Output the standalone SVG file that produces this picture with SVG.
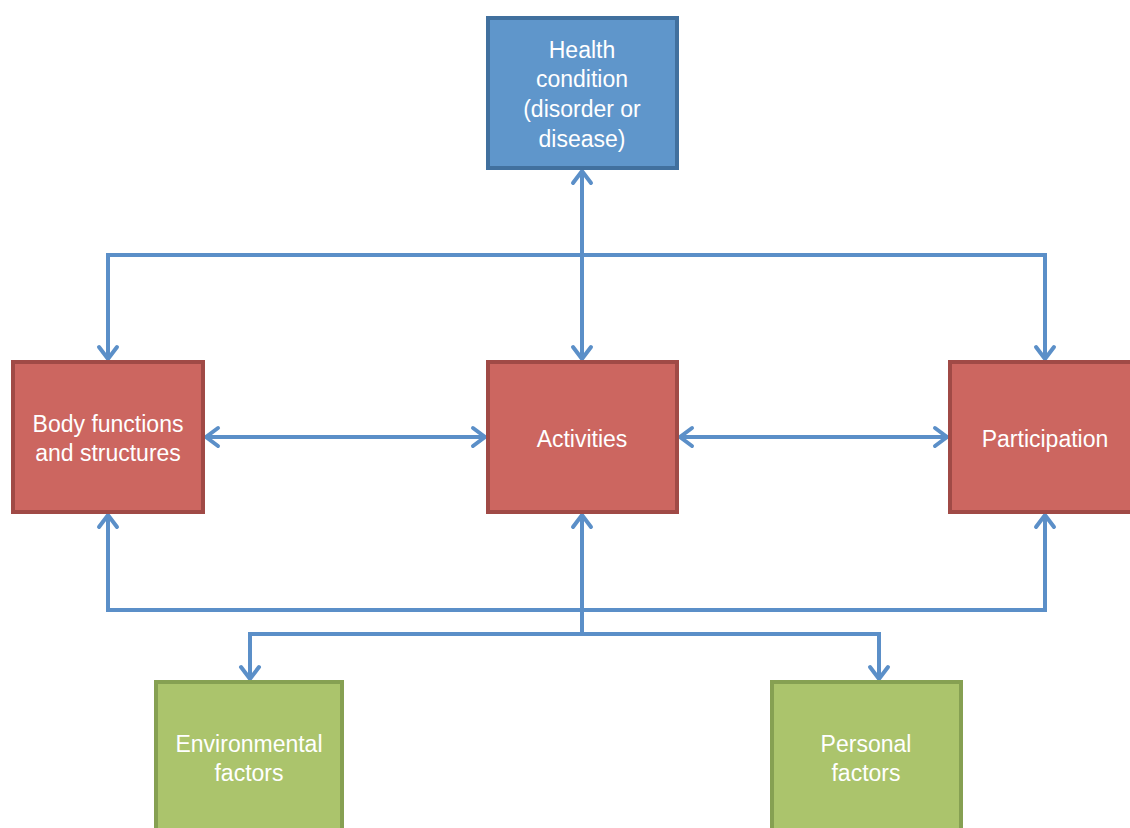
<svg xmlns="http://www.w3.org/2000/svg" width="1130" height="828" viewBox="0 0 1130 828">
<style>
.blue{fill:#5F96CB;stroke:#41709E;stroke-width:4}
.red{fill:#CC6660;stroke:#A04A46;stroke-width:4}
.green{fill:#ABC46C;stroke:#86A052;stroke-width:4}
.lbl{font-family:"Liberation Sans",Arial,sans-serif;font-size:23px;fill:#FFFFFF;text-anchor:middle}
.conn{fill:none;stroke:#5B8FC8;stroke-width:4}
</style>
<defs>
<marker id="arr" markerUnits="userSpaceOnUse" markerWidth="30" markerHeight="30" refX="0" refY="0" viewBox="-15 -15 30 30" orient="auto-start-reverse" overflow="visible">
<path d="M-12,-9 L0,0 L-12,9" fill="none" stroke="#5B8FC8" stroke-width="4" stroke-linecap="round" stroke-linejoin="miter"/>
</marker>
</defs>
<rect width="1130" height="828" fill="#FFFFFF"/>
<g id="connectors">
<path class="conn" d="M582,171 L582,359" marker-start="url(#arr)" marker-end="url(#arr)"/>
<path class="conn" d="M108,359 L108,255 L1045,255 L1045,359" marker-start="url(#arr)" marker-end="url(#arr)"/>
<path class="conn" d="M206,437 L485,437" marker-start="url(#arr)" marker-end="url(#arr)"/>
<path class="conn" d="M680,437 L947,437" marker-start="url(#arr)" marker-end="url(#arr)"/>
<path class="conn" d="M108,515 L108,610 L1045,610 L1045,515" marker-start="url(#arr)" marker-end="url(#arr)"/>
<path class="conn" d="M582,634 L582,515" marker-end="url(#arr)"/>
<path class="conn" d="M250,679 L250,634 L879,634 L879,679" marker-start="url(#arr)" marker-end="url(#arr)"/>
</g>
<g id="health">
<rect class="blue" x="488" y="18" width="189" height="150"/>
<text class="lbl" x="582" y="58">Health</text>
<text class="lbl" x="582" y="87">condition</text>
<text class="lbl" x="582" y="117">(disorder or</text>
<text class="lbl" x="582" y="147">disease)</text>
</g>
<g id="body">
<rect class="red" x="13" y="362" width="190" height="150"/>
<text class="lbl" x="108" y="432">Body functions</text>
<text class="lbl" x="108" y="461">and structures</text>
</g>
<g id="activities">
<rect class="red" x="488" y="362" width="189" height="150"/>
<text class="lbl" x="582" y="447">Activities</text>
</g>
<g id="participation">
<rect class="red" x="950" y="362" width="190" height="150"/>
<text class="lbl" x="1045" y="447">Participation</text>
</g>
<g id="environmental">
<rect class="green" x="156" y="682" width="186" height="160"/>
<text class="lbl" x="249" y="752">Environmental</text>
<text class="lbl" x="249" y="781">factors</text>
</g>
<g id="personal">
<rect class="green" x="772" y="682" width="189" height="160"/>
<text class="lbl" x="866" y="752">Personal</text>
<text class="lbl" x="866" y="781">factors</text>
</g>
</svg>
